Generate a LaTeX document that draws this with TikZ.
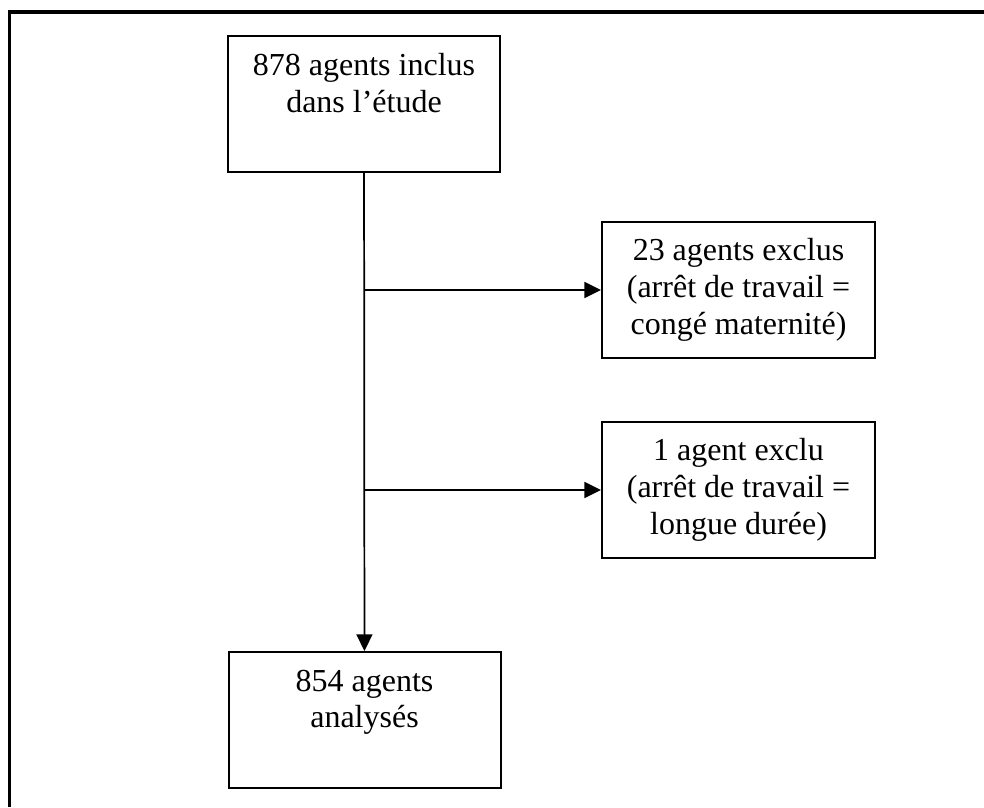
\documentclass[tikz,border=0pt]{standalone}
\usepackage{fontspec}
\setmainfont{Liberation Serif}
\usetikzlibrary{positioning,calc,arrows.meta}

\begin{document}
\begin{tikzpicture}[x=0.75pt,y=-0.75pt,
  boite/.style={rectangle,draw,line width=1.5pt,minimum width=204pt,minimum height=102pt,
    align=center,inner sep=0pt,font=\fontsize{24}{27.5}\selectfont},
  fleche/.style={-{Triangle[length=12.5pt,width=12pt]},line width=1.3pt},
  cadre/.style={line width=2.4pt}]
\useasboundingbox (0,0) rectangle (984,807);
\draw[cadre] (9.5,807) |- (984,12);

\node[boite] (incl) at (364,104) {878 agents inclus\\dans l'étude\\\rule[-4pt]{0pt}{4pt}};
\node[boite,minimum width=204.75pt] (excl1) at (738.5,290) {23 agents exclus\\(arrêt de travail =\\congé maternité)};
\node[boite,minimum width=204.75pt] (excl2) at (738.5,490) {1 agent exclu\\(arrêt de travail =\\longue durée)};
\node[boite] (anal) at (364.5,720) {854 agents\\analysés\\\rule[-4pt]{0pt}{4pt}};

\draw[fleche] (incl) -- (anal);
\draw[fleche] (incl.south |- excl1.west) -- (excl1.west);
\draw[fleche] (incl.south |- excl2.west) -- (excl2.west);
\end{tikzpicture}
\end{document}
